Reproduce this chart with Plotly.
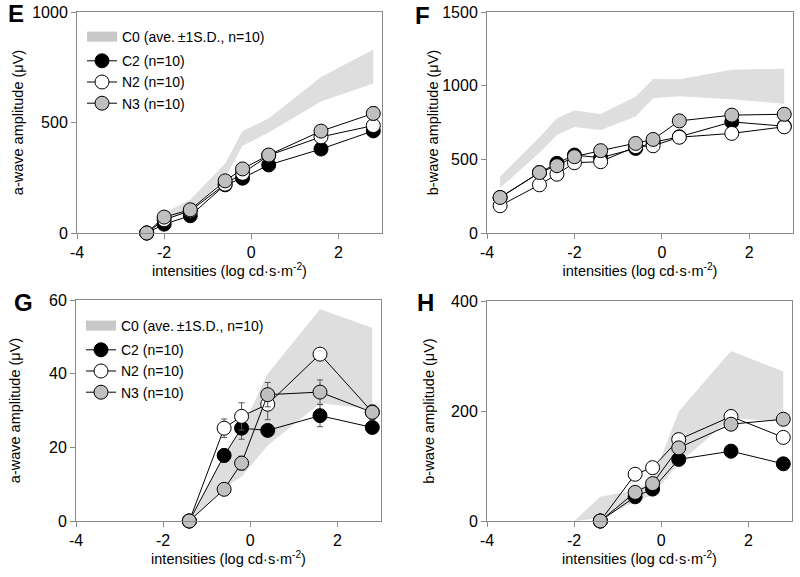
import plotly.graph_objects as go

# ---------------- data ----------------
# Panel E: a-wave
x_E = [-2.4, -2.0, -1.4, -0.6, -0.2, 0.4, 1.6, 2.8]
C2_E = [0, 40, 78, 218, 248, 308, 380, 462]
N2_E = [0, 60, 100, 221, 270, 351, 435, 486]
N3_E = [0, 72, 105, 236, 290, 353, 461, 541]
C2_E_sd = [0, 10, 10, 10, 12, 12, 12, 15]
N2_E_sd = [0, 10, 10, 10, 12, 12, 15, 15]
N3_E_sd = [0, 10, 10, 10, 12, 12, 15, 30]
band_E_x = [-2.0, -1.4, -0.6, -0.2, 0.4, 1.6, 2.8]
band_E_hi = [90, 150, 315, 461, 518, 706, 830]
band_E_lo = [60, 100, 250, 395, 455, 595, 676]

# Panel F: b-wave
x_F = [-3.7, -2.8, -2.4, -2.0, -1.4, -0.6, -0.2, 0.4, 1.6, 2.8]
C2_F = [241, 410, 473, 529, 511, 574, 615, 653, 754, 725]
N2_F = [185, 327, 399, 477, 484, 586, 592, 650, 676, 721]
N3_F = [241, 410, 457, 518, 559, 608, 635, 761, 800, 806]
C2_F_sd = [15, 15, 15, 15, 20, 20, 20, 25, 35, 35]
N2_F_sd = [10, 10, 10, 10, 15, 15, 15, 20, 20, 25]
N3_F_sd = [15, 15, 15, 15, 15, 20, 25, 40, 40, 45]
band_F_x = [-3.7, -2.8, -2.4, -2.0, -1.4, -0.6, -0.2, 0.4, 1.6, 2.8]
band_F_hi = [383, 650, 779, 831, 808, 925, 1046, 1043, 1108, 1115]
band_F_lo = [305, 545, 665, 720, 699, 790, 915, 928, 908, 878]

# Panel G: a-wave
x_G = [-1.4, -0.6, -0.2, 0.4, 1.6, 2.8]
C2_G = [0, 17.8, 25.2, 24.6, 28.6, 25.4]
N2_G = [0, 25.2, 28.4, 31.7, 45.3, 29.6]
N3_G = [0, 8.6, 15.7, 34.3, 35.0, 29.5]
C2_G_sd = [0, 1.8, 3.0, 0.8, 3.0, 1.5]
N2_G_sd = [0, 2.5, 3.7, 4.2, 1.5, 1.5]
N3_G_sd = [0, 1.6, 1.9, 3.3, 3.3, 2.0]
band_G_x = [-1.4, -0.6, -0.2, 0.4, 1.6, 2.8]
band_G_hi = [0, 18, 25, 40, 57.5, 52.5]
band_G_lo = [0, 9, 12, 20.5, 32, 30.4]

# Panel H: b-wave
x_H = [-1.4, -0.6, -0.2, 0.4, 1.6, 2.8]
C2_H = [0, 44, 58, 112, 127, 104]
N2_H = [0, 85, 97, 148, 190, 152]
N3_H = [0, 52, 68, 133, 176, 185]
C2_H_sd = [0, 5, 5, 6, 12, 5]
N2_H_sd = [0, 3, 3, 4, 5, 4]
N3_H_sd = [0, 4, 4, 6, 10, 8]
band_H_x = [-2.0, -1.4, -0.6, -0.2, 0.4, 1.6, 2.8]
band_H_hi = [0, 44, 56, 75, 199, 309, 272]
band_H_lo = [0, 5, 35, 47, 105, 187, 181]

series_names = ["C2 (n=10)", "N2 (n=10)", "N3 (n=10)"]
band_name = "C0 (ave.\u2009\u00b11S.D., n=10)"
x_ticks = [-4, -2, 0, 2]

# ---------------- styles ----------------
FONT = "Liberation Sans, Arial, sans-serif"
fills = ["#000000", "#ffffff", "#c0c0c0"]
BAND = "#dedede"
BAND_LEG = "#c8c8c8"
AXC = "#8a8a8a"

W, H = 800, 577
fig = go.Figure()

panels = [
    dict(ax="", x=x_E, ys=[C2_E, N2_E, N3_E], sds=[C2_E_sd, N2_E_sd, N3_E_sd],
         bx=band_E_x, bhi=band_E_hi, blo=band_E_lo, legend="legend"),
    dict(ax="2", x=x_F, ys=[C2_F, N2_F, N3_F], sds=[C2_F_sd, N2_F_sd, N3_F_sd],
         bx=band_F_x, bhi=band_F_hi, blo=band_F_lo, legend=None),
    dict(ax="3", x=x_G, ys=[C2_G, N2_G, N3_G], sds=[C2_G_sd, N2_G_sd, N3_G_sd],
         bx=band_G_x, bhi=band_G_hi, blo=band_G_lo, legend="legend2"),
    dict(ax="4", x=x_H, ys=[C2_H, N2_H, N3_H], sds=[C2_H_sd, N2_H_sd, N3_H_sd],
         bx=band_H_x, bhi=band_H_hi, blo=band_H_lo, legend=None),
]

for p in panels:
    xa, ya = "x" + p["ax"], "y" + p["ax"]
    leg = p["legend"]
    fig.add_trace(go.Scatter(
        x=p["bx"] + p["bx"][::-1], y=p["bhi"] + p["blo"][::-1],
        fill="toself", fillcolor=BAND, mode="lines", line=dict(width=0),
        showlegend=False, hoverinfo="skip", xaxis=xa, yaxis=ya))
    if leg:
        fig.add_trace(go.Scatter(
            x=[None], y=[None], mode="lines",
            line=dict(width=13, color=BAND_LEG), name=band_name, showlegend=True,
            legend=leg, legendgroup="band", xaxis=xa, yaxis=ya))
    for name, yv, sd, fc in zip(series_names, p["ys"], p["sds"], fills):
        fig.add_trace(go.Scatter(
            x=p["x"], y=yv, name=name, mode="lines+markers",
            line=dict(color="#000000", width=1),
            marker=dict(size=14, color=fc, line=dict(color="#000000", width=1)),
            error_y=dict(type="data", array=sd, color="#555555", thickness=1, width=3),
            cliponaxis=False, showlegend=bool(leg), legend=leg if leg else "legend",
            legendgroup="groups", xaxis=xa, yaxis=ya))

def px_x(v):
    return v / W

def px_y(v):
    return 1 - v / H

xdoms = {"": (77, 382), "2": (487, 793), "3": (76, 381), "4": (487, 792)}
ydoms = {"": (12, 233), "2": (12, 233), "3": (300, 521), "4": (301, 521)}
yranges = {"": [0, 1000], "2": [0, 1500], "3": [0, 60], "4": [0, 400]}
yticks = {"": [0, 500, 1000], "2": [0, 500, 1000, 1500], "3": [0, 20, 40, 60], "4": [0, 200, 400]}
ytitles = {"": "a-wave amplitude (\u03bcV)", "2": "b-wave amplitude (\u03bcV)",
           "3": "a-wave amplitude (\u03bcV)", "4": "b-wave amplitude (\u03bcV)"}
ystand = {"": 5, "2": 0, "3": 24, "4": 13}

axis_common = dict(showgrid=False, zeroline=False, showline=True, linecolor=AXC,
                   linewidth=1, mirror=True, ticks="outside", ticklen=5,
                   tickcolor=AXC, tickwidth=1, automargin=False,
                   tickfont=dict(family=FONT, size=16, color="#000000"))

layout_axes = {}
for k in ["", "2", "3", "4"]:
    x0, x1 = xdoms[k]
    t0, t1 = ydoms[k]
    xa = dict(axis_common, domain=[px_x(x0), px_x(x1)], range=[-4, 3],
              tickvals=x_ticks, ticktext=[str(t) for t in x_ticks],
              title=dict(text="intensities (log cd\u00b7s\u00b7m<sup>-2</sup>)",
                         font=dict(family=FONT, size=14.5, color="#000000"), standoff=4),
              anchor="y" + k)
    ya = dict(axis_common, domain=[px_y(t1), px_y(t0)], range=yranges[k],
              tickvals=yticks[k],
              title=dict(text=ytitles[k], font=dict(family=FONT, size=14.5, color="#000000"),
                         standoff=ystand[k]),
              anchor="x" + k)
    layout_axes["xaxis" + k] = xa
    layout_axes["yaxis" + k] = ya

leg_common = dict(font=dict(family=FONT, size=14, color="#000000"),
                  bgcolor="rgba(0,0,0,0)", borderwidth=0, tracegroupgap=3,
                  xanchor="left", yanchor="top", itemwidth=30)

fig.update_layout(
    width=W, height=H, margin=dict(l=0, r=0, t=0, b=0),
    paper_bgcolor="white", plot_bgcolor="white",
    font=dict(family=FONT, size=14, color="#000000"),
    legend=dict(leg_common, x=px_x(82), y=px_y(21)),
    legend2=dict(leg_common, x=px_x(81), y=px_y(310)),
    **layout_axes,
)

letters = [("E", 6, 13), ("F", 413, 16), ("G", 12, 302), ("H", 415, 302)]
for t, lx, ly in letters:
    fig.add_annotation(text="<b>%s</b>" % t, x=px_x(lx), y=px_y(ly), xref="paper", yref="paper",
                       xanchor="left", yanchor="middle", showarrow=False,
                       font=dict(family=FONT, size=24, color="#000000"))

fig.write_html("out.html", config={"displayModeBar": False},
               post_script="document.body.style.margin='0';document.body.style.overflow='hidden';")
